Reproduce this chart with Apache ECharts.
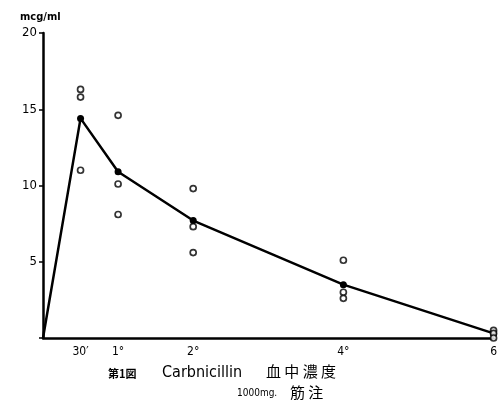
<!DOCTYPE html>
<html><head><meta charset="utf-8">
<script src="https://cdn.jsdelivr.net/npm/echarts@6/dist/echarts.min.js"></script>
<style>html,body{margin:0;padding:0;background:#fff}#c{width:500px;height:405px}</style>
</head><body><div id="c"></div>
<script>
// time in hours
const meanTimes = [0, 0.5, 1, 2, 4, 6];
const meanValues = [0, 14.4, 10.9, 7.7, 3.5, 0.3];
const obsTimes = [0.5, 0.5, 0.5, 1, 1, 1, 2, 2, 2, 4, 4, 4, 6, 6, 6];
const obsValues = [16.3, 15.8, 11.0, 14.6, 10.1, 8.1, 9.8, 7.3, 5.6, 5.1, 3.0, 2.6, 0.5, 0.3, 0.0];
const xTickValues = [0.5, 1, 2, 4, 6];
const xTickLabels = ["30′", "1°", "2°", "4°", "6"];
const yTicks = [5, 10, 15, 20];

const chart = echarts.init(document.getElementById('c'));
const font = '"DejaVu Sans Condensed", "DejaVu Sans", sans-serif';
chart.setOption({
  animation: false,
  backgroundColor: '#fff',
  grid: { left: 43, right: 3, top: 33, bottom: 67 },
  xAxis: {
    type: 'value', min: 0, max: 6, interval: 0.5,
    axisLine: { lineStyle: { color: '#000', width: 2.5 } },
    axisTick: { show: false },
    splitLine: { show: false },
    axisLabel: {
      color: '#000', fontFamily: font, fontSize: 12, margin: 8,
      formatter: v => { const i = xTickValues.indexOf(v); return i >= 0 ? xTickLabels[i] : ''; }
    }
  },
  yAxis: {
    type: 'value', min: 0, max: 20, interval: 5,
    axisLine: { show: true, lineStyle: { color: '#000', width: 2.5 } },
    axisTick: { show: true, length: 4, lineStyle: { color: '#000', width: 1.5 } },
    splitLine: { show: false },
    axisLabel: {
      color: '#000', fontFamily: font, fontSize: 13, margin: 6,
      formatter: v => yTicks.indexOf(v) >= 0 ? String(v) : ''
    }
  },
  graphic: [
    { type: 'text', left: 20, top: 12, style: { text: 'mcg/ml', fill: '#000', font: 'bold 11px ' + font } },
    { type: 'text', left: 108, top: 368, style: { text: '第1図', fill: '#000', font: 'bold 11px "Noto Sans CJK JP"' } },
    { type: 'text', left: 162, top: 365, style: { text: 'Carbnicillin', fill: '#000', font: '16px ' + font } },
    { type: 'text', left: 266, top: 364, style: { text: '血 中 濃 度', fill: '#000', font: '15px "Noto Sans CJK JP"' } },
    { type: 'text', left: 237, top: 388, style: { text: '1000mg.', fill: '#000', font: '10px ' + font } },
    { type: 'text', left: 290, top: 385, style: { text: '筋 注', fill: '#000', font: '15px "Noto Sans CJK JP"' } }
  ],
  series: [
    {
      type: 'line',
      data: meanTimes.map((t, i) => i === 0 ? { value: [t, meanValues[i]], symbolSize: 0 } : [t, meanValues[i]]),
      symbol: 'circle', symbolSize: 7,
      lineStyle: { color: '#000', width: 2.5 },
      itemStyle: { color: '#000' },
      z: 3
    },
    {
      type: 'scatter',
      data: obsTimes.map((t, i) => [t, obsValues[i]]),
      symbol: 'circle', symbolSize: 6,
      itemStyle: { color: '#fff', borderColor: '#000', borderWidth: 1.7 },
      z: 4
    }
  ]
});
</script></body></html>
